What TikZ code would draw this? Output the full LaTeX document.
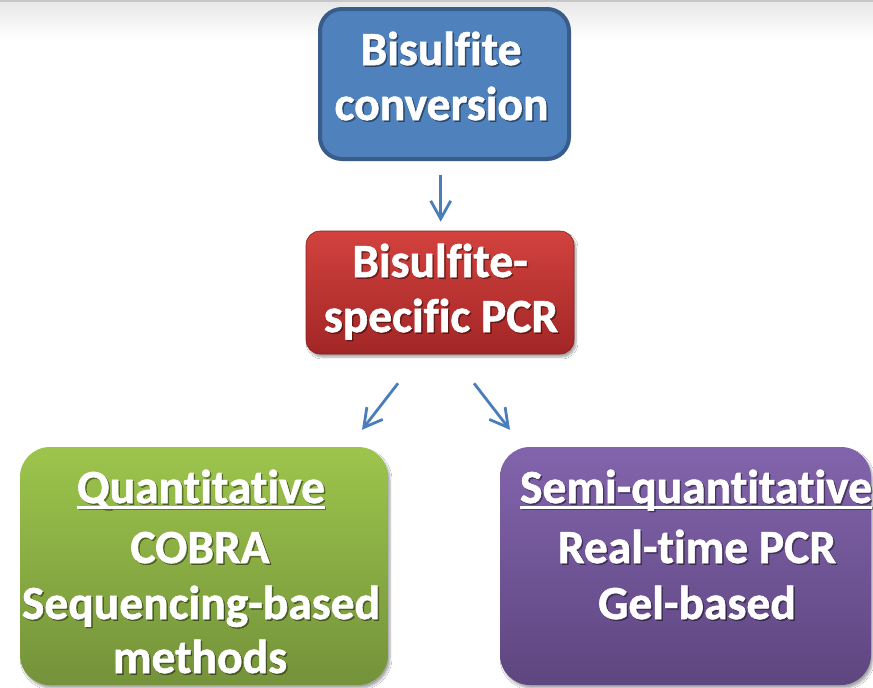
\documentclass[tikz,border=0pt]{standalone}
\usepackage{fontspec}
\setmainfont{Carlito}[Ligatures={NoCommon}, BoldFeatures={FakeBold=1.2}]
\usetikzlibrary{arrows.meta,shadows.blur}

\definecolor{bluefill}{RGB}{79,129,189}
\definecolor{blueline}{RGB}{56,93,138}
\definecolor{redtop}{RGB}{210,66,62}
\definecolor{redbot}{RGB}{162,38,38}
\definecolor{greentop}{RGB}{157,197,76}
\definecolor{greenbot}{RGB}{116,146,58}
\definecolor{purtop}{RGB}{130,100,172}
\definecolor{purbot}{RGB}{94,70,128}
\definecolor{arrowblue}{RGB}{74,126,187}

% underlined heading word with a heavy rule
\newcommand\ulword[1]{\setbox0\hbox{#1}\rlap{\rule[-5.5pt]{\wd0}{2.6pt}}\box0}

% white label line with a soft dark drop shadow: name, x, baseline y, text
\newcommand\shtext[4]{%
  \node[txtshadow] (#1s) at (#2+1.5,#3+1.5) {#4};
  \node[boxtext] (#1) at (#2,#3) {#4};}

\tikzset{
  boxtext/.style={anchor=base, inner sep=0pt, text=white,
    font=\fontsize{47.5}{55}\bfseries\selectfont},
  txtshadow/.style={boxtext, text=black, text opacity=0.35},
  card/.style={inner sep=0pt, minimum width=#1},
  softshadow/.style={blur shadow={shadow xshift=2pt, shadow yshift=-3pt,
    shadow blur steps=6, shadow opacity=35}},
  arr/.style={draw=arrowblue, line width=2.8pt,
    -{Straight Barb[length=18pt,width=20pt,line width=2.8pt]}}
}

\begin{document}
\begin{tikzpicture}[x=1pt,y=-1pt]
\useasboundingbox (0,0) rectangle (873,688);
\fill[white] (0,0) rectangle (873,688);
\shade[top color=black!9, bottom color=white] (0,2) rectangle (873,40);
\fill[black!22] (0,0) rectangle (873,2);

% boxes
\node[card=249pt, minimum height=150pt, draw=blueline, line width=4pt,
  fill=bluefill, rounded corners=22pt] (conv) at (444.5,84) {};
\node[card=268pt, minimum height=123pt, rounded corners=14pt, softshadow,
  top color=redtop, bottom color=redbot, draw=redbot!85!black, line width=0.6pt]
  (pcr) at (440,292.5) {};
\node[card=368pt, minimum height=238pt, rounded corners=30pt, softshadow,
  top color=greentop, bottom color=greenbot] (quant) at (204,566) {};
\node[card=371pt, minimum height=238pt, rounded corners=30pt, softshadow,
  top color=purtop, bottom color=purbot] (semi) at (685.5,566) {};

% labels
\shtext{c1}{441}{65}{Bisulfite}
\shtext{c2}{441.5}{120}{conversion}
\shtext{p1}{440}{277}{Bisulfite-}
\shtext{p2}{441}{332}{specific PCR}
\shtext{q1}{201}{503}{\ulword{Quantitative}}
\shtext{q2}{200}{563}{COBRA}
\shtext{q3}{201}{619}{Sequencing-based}
\shtext{q4}{200}{673}{methods}
\shtext{s1}{696}{503}{\ulword{Semi-quantitative}}
\shtext{s2}{697}{563}{Real-time PCR}
\shtext{s3}{697}{619}{Gel-based}

% connectors
\draw[arr] ([shift={(-3.8,14)}]conv.south) -- ([shift={(0.7,-9)}]pcr.north);
\draw[arr] ([shift={(-42,29)}]pcr.south) -- ([shift={(158,-17)}]quant.north);
\draw[arr] ([shift={(34,29)}]pcr.south) -- ([shift={(-175.5,-17)}]semi.north);
\end{tikzpicture}
\end{document}
